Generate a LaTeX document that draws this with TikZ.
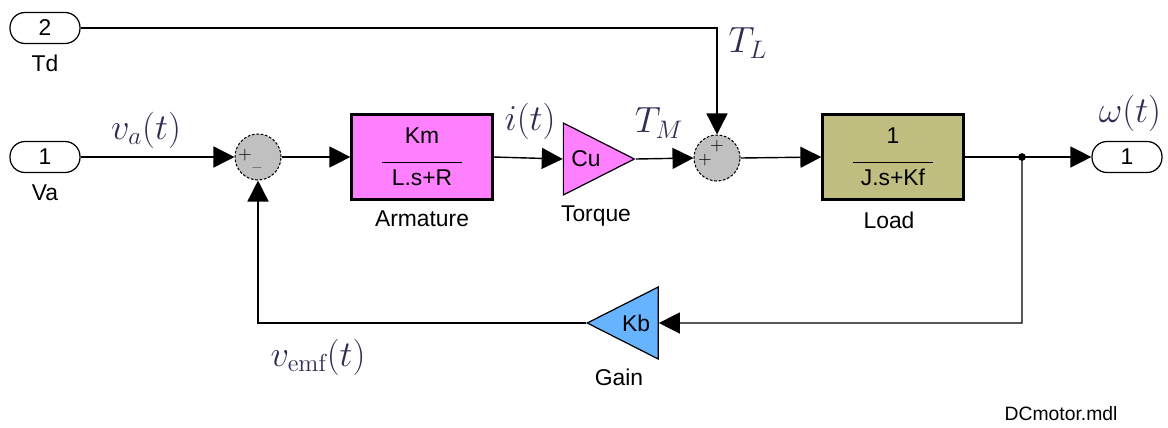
\documentclass[tikz,border=0pt]{standalone}
\usepackage{amsmath,amssymb}
\usepackage{fontspec}
\newfontfamily\simfont{Liberation Sans}
\usetikzlibrary{arrows.meta,shapes.geometric}
\definecolor{armcol}{HTML}{FF80FF}
\definecolor{loadcol}{HTML}{BFBD80}
\definecolor{gaincol}{HTML}{66B3FF}
\definecolor{sumcol}{HTML}{C0C0C0}
\definecolor{mathcol}{HTML}{2E2E52}
\begin{document}
\begin{tikzpicture}[x=0.02cm, y=-0.02cm,
	every node/.style={font=\simfont\fontsize{13}{15}\selectfont},
	sig/.style={-{Triangle[length=0.42cm,width=0.42cm]}, line width=0.8pt},
	wire/.style={line width=0.8pt},
	port/.style={draw, line width=0.7pt, rounded corners=0.3cm, minimum width=1.4cm, minimum height=0.62cm, inner sep=0pt},
	tfbox/.style={draw, line width=1.3pt, minimum width=2.82cm, minimum height=1.7cm, align=center},
	sumnode/.style={circle, draw, dashed, dash pattern=on 1.5pt off 1pt, line width=0.6pt, fill=sumcol, minimum size=0.92cm, inner sep=0pt},
	gainnode/.style={isosceles triangle, isosceles triangle stretches, draw, line width=0.7pt, minimum width=1.44cm, minimum height=1.42cm, inner sep=0pt},
	mlabel/.style={text=mathcol, font=\fontsize{20}{24}\selectfont},
	sign/.style={font=\fontsize{10}{12}\selectfont, inner sep=0pt}]
	\useasboundingbox (0,0) rectangle (1168,427);
	\node[port] (td) at (45,28) {2};
	\node (tdlab) at (45,63) {Td};
	\node[port] (va) at (45,157) {1};
	\node (valab) at (45,193) {Va};
	\node[sumnode] (sum1) at (258,157) {};
	\node[sign] (s1a) at (245,155) {+};
	\node[sign] (s1b) at (257,170) {\textendash};
	\node[tfbox, fill=armcol] (arm) at (422,157) {Km\\[-4pt]\rule{1.6cm}{0.6pt}\\[-2pt]L.s+R};
	\node (armlab) at (422,219) {Armature};
	\node[gainnode, fill=armcol, shape border rotate=0] (torque) at (586,159) {Cu};
	\node (torquelab) at (596,216) {Torque};
	\node[sumnode] (sum2) at (717,158) {};
	\node[sign] (s2a) at (717,146) {+};
	\node[sign] (s2b) at (705,160) {+};
	\node[tfbox, fill=loadcol] (load) at (893,157) {1\\[-4pt]\rule{1.6cm}{0.6pt}\\[-2pt]J.s+Kf};
	\node (loadlab) at (889,220) {Load};
	\node[port] (out) at (1127,157) {1};
	\node[gainnode, fill=gaincol, shape border rotate=180] (gain) at (636,323) {Kb};
	\node (gainlab) at (619,377) {Gain};
	\coordinate (branch) at (1022,157);
	\coordinate (fb) at (1022,323);
	\node[mlabel] (valbl) at (146,130) {$v_a(t)$};
	\node[mlabel] (ilbl) at (530,121) {$i(t)$};
	\node[mlabel] (tmlbl) at (659,123) {$T_M$};
	\node[mlabel] (tllbl) at (748,43) {$T_L$};
	\node[mlabel] (wlbl) at (1130,113) {$\omega(t)$};
	\node[mlabel] (vemflbl) at (318,357) {$v_{\mathrm{emf}}(t)$};
	\node[font=\simfont\fontsize{11}{13}\selectfont] (fname) at (1061,414) {DCmotor.mdl};
	\draw[sig] (va.east) -- (sum1.west);
	\draw[sig] (sum1.east) -- (arm.west);
	\draw[sig] (arm.east) -- (torque.west);
	\draw[sig] (torque.east) -- (sum2.west);
	\draw[sig] (td.east) -- (sum2 |- td.east) -- (sum2.north);
	\draw[sig] (sum2.east) -- (load.west);
	\draw[sig] (load.east) -- (out.west);
	\fill (branch) circle (2.2pt);
	\draw[sig] (branch) -- (fb) -- (gain.east);
	\draw[sig] (gain.west) -- (sum1 |- gain.west) -- (sum1.south);
\end{tikzpicture}
\end{document}
